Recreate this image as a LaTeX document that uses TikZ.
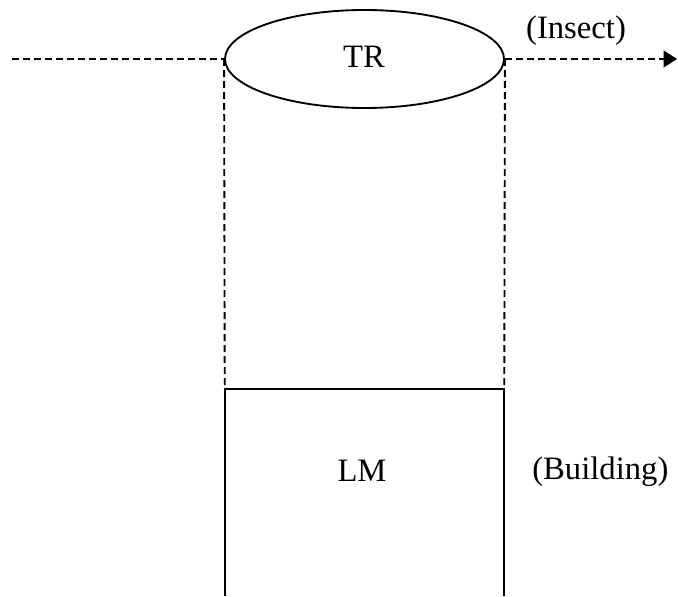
\documentclass[tikz,border=0pt]{standalone}
\usepackage{fontspec}
\setmainfont{Liberation Serif}
\usetikzlibrary{arrows.meta, positioning, shapes.geometric}

\begin{document}
\begin{tikzpicture}[
    x=0.75pt, y=-0.75pt,
    >={Triangle[length=10pt, width=12.5pt]},
    % --- text and shape styles ---
    lbl/.style={font=\fontsize{24.5}{29}\selectfont, inner sep=0pt},
    trshape/.style={ellipse, draw=black, line width=1.4pt,
        minimum width=279*0.75pt, minimum height=98*0.75pt,
        inner sep=0pt, font=\fontsize{24.5}{29}\selectfont},
    lmbox/.style={rectangle, minimum width=279*0.75pt,
        minimum height=207*0.75pt, inner sep=0pt},
    % --- line styles ---
    guide/.style={dash pattern=on 5.25pt off 3pt, line width=1.4pt},
    wall/.style={line width=1.8pt},
]

\useasboundingbox (0,0) rectangle (678,596);

% ===== trajector (top) =====
\node[trshape] (tr) at (364.5,59) {};
\node[lbl] (trtext) at (364,57) {TR};
\coordinate (west end) at (12,59);
\coordinate (east end) at (677,59);

% ===== landmark (bottom, open at the foot) =====
\node[lmbox] (lm) at (364.5,492.5) {};
\node[lbl] (lmtext) at (362,471) {LM};

% ===== labels =====
\node[lbl] (insect) at (576,31) {(Insect)};
\node[lbl, anchor=west] (bldg) at (532,472) {(Building)};

% ===== path of motion =====
\draw[guide] (west end) -- (tr.west);
\draw[guide, ->] (tr.east) -- (east end);

% ===== projection lines =====
\draw[guide] (tr.west) -- (lm.north west);
\draw[guide] (tr.east) -- (lm.north east);

\draw[wall] (lm.south west) -- (lm.north west) -- (lm.north east) -- (lm.south east);

\end{tikzpicture}
\end{document}
